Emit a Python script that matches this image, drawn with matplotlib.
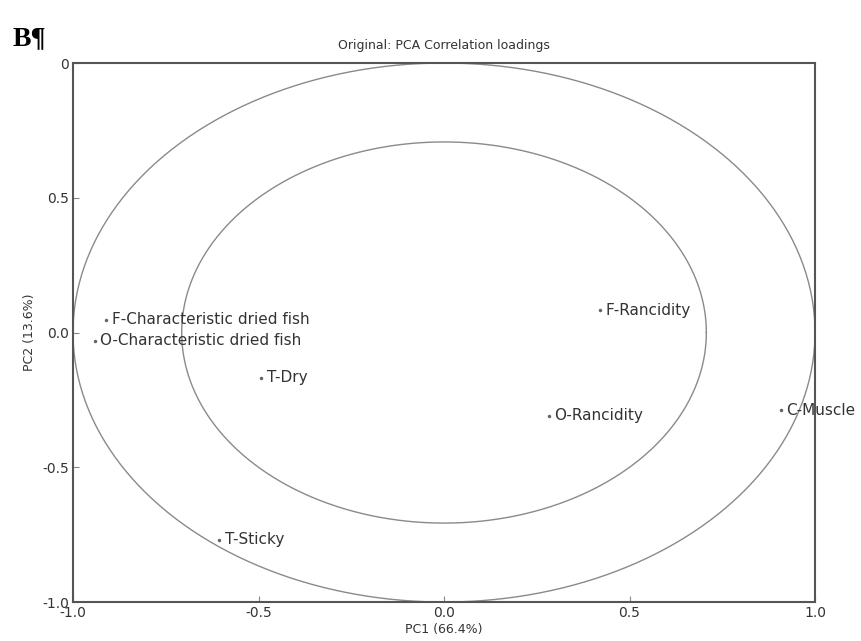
import numpy as np
import matplotlib
matplotlib.use("Agg")
import matplotlib.pyplot as plt

names = ["F-Characteristic dried fish", "O-Characteristic dried fish", "T-Dry",
         "T-Sticky", "F-Rancidity", "O-Rancidity", "C-Muscle"]
pc1 = [-0.911, -0.941, -0.493, -0.606, 0.420, 0.283, 0.908]
pc2 = [0.048, -0.030, -0.167, -0.768, 0.082, -0.308, -0.289]

xticks = [-1.0, -0.5, 0.0, 0.5, 1.0]
yticks = [-1.0, -0.5, 0.0, 0.5, 1.0]
ytick_labels = ["-1.0", "-0.5", "0.0", "0.5", "0"]

narrow = ["Liberation Sans Narrow", "DejaVu Sans"]

fig = plt.figure(figsize=(8.62, 6.41), dpi=100)
ax = fig.add_axes([0.0847, 0.0608, 0.8608, 0.8409])

t = np.linspace(0, 2 * np.pi, 400)
for r in [1.0, np.sqrt(0.5)]:
    ax.plot(r * np.cos(t), r * np.sin(t), color="#8a8a8a", lw=1.0)

ax.plot(pc1, pc2, ".", color="#666666", ms=3)
for x, y, n in zip(pc1, pc2, names):
    ax.annotate(n, (x, y), xytext=(4, 0), textcoords="offset points",
                va="center", ha="left", fontsize=11, color="#333333")

ax.set_xlim(-1, 1)
ax.set_ylim(-1, 1)
ax.set_xticks(xticks)
ax.set_xticklabels([f"{v:.1f}" for v in xticks], family=narrow, fontsize=10, color="#333333")
ax.set_yticks(yticks)
ax.set_yticklabels(ytick_labels, family=narrow, fontsize=10, color="#333333")
ax.tick_params(direction="in", length=4, color="#888888", pad=3)
for s in ax.spines.values():
    s.set_color("#555555")
    s.set_linewidth(1.5)

ax.set_title("Original: PCA Correlation loadings", family=narrow, fontsize=9,
             color="#333333", pad=10)
ax.set_xlabel("PC1 (66.4%)", family=narrow, fontsize=9, color="#333333", labelpad=2)
ax.set_ylabel("PC2 (13.6%)", family=narrow, fontsize=9, color="#333333", labelpad=4)

fig.text(0.014, 0.93, "B¶", family="Liberation Serif", fontweight="bold", fontsize=20)

fig.savefig("out.png", dpi=100)
